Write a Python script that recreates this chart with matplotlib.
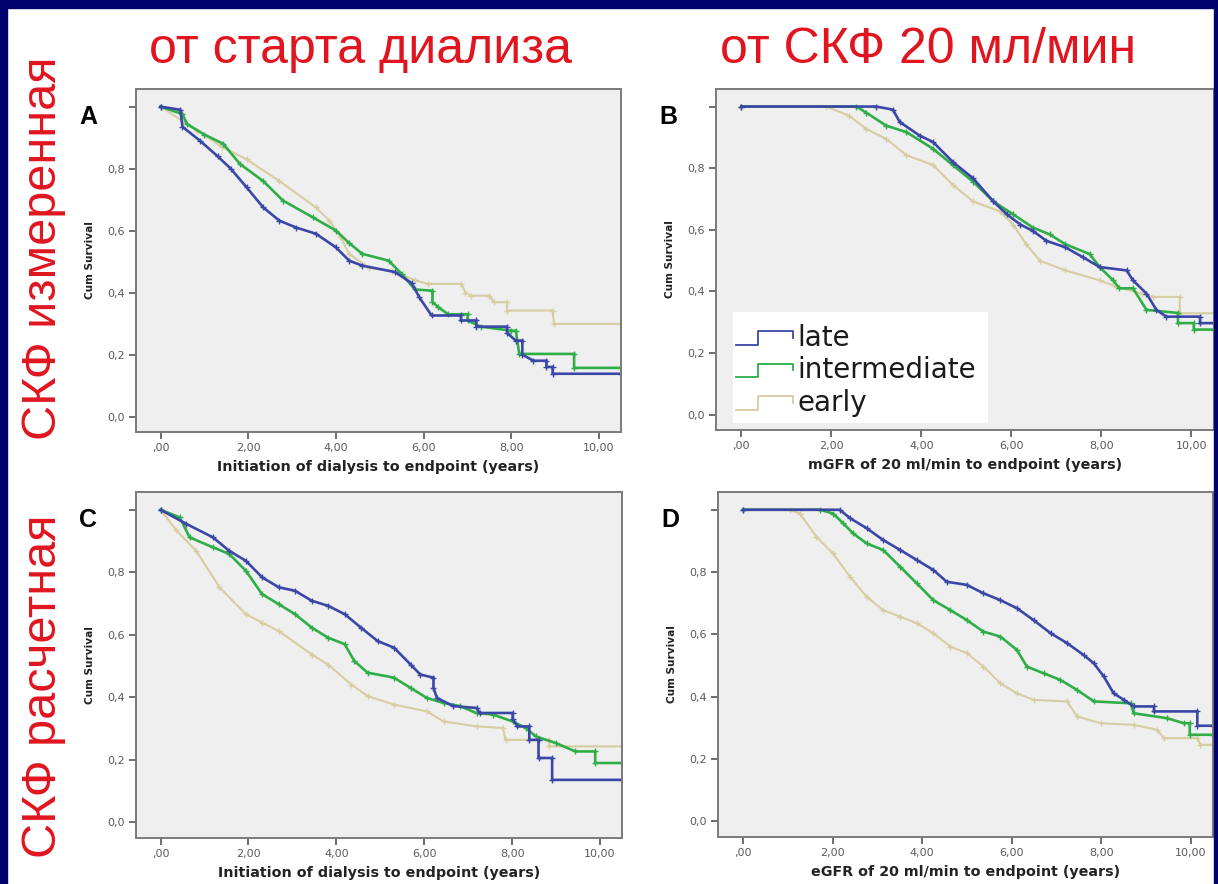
import matplotlib
matplotlib.use("Agg")
import matplotlib.pyplot as plt
from matplotlib.patches import Rectangle

W, H = 1218, 884

# survival curves: (years, cum survival) knots for each group and panel
a_late_t = [0, 0.45, 0.5, 0.9, 1.3, 1.6, 1.96, 2.34, 2.71, 3.09, 3.54, 4.0, 4.3, 4.6, 5.35, 5.73, 5.9, 6.18, 6.85, 6.85, 7.2, 7.2, 7.9, 7.9, 8.1, 8.25, 8.25, 8.5, 8.8, 8.8, 8.94, 8.94, 10.5]
a_late_s = [1.0, 0.99, 0.935, 0.89, 0.84, 0.80, 0.74, 0.675, 0.632, 0.61, 0.59, 0.546, 0.503, 0.487, 0.466, 0.43, 0.385, 0.326, 0.326, 0.31, 0.31, 0.29, 0.29, 0.27, 0.245, 0.245, 0.20, 0.18, 0.18, 0.16, 0.16, 0.138, 0.138]
a_mid_t = [0, 0.5, 0.6, 1.0, 1.43, 1.81, 2.34, 2.79, 3.47, 4.0, 4.3, 4.6, 5.2, 5.5, 5.8, 6.2, 6.2, 6.33, 6.56, 7.0, 7.0, 7.3, 8.0, 8.1, 8.18, 9.43, 9.43, 10.5]
a_mid_s = [1.0, 0.976, 0.944, 0.91, 0.88, 0.815, 0.76, 0.697, 0.643, 0.6, 0.56, 0.525, 0.503, 0.46, 0.41, 0.406, 0.37, 0.353, 0.33, 0.33, 0.31, 0.29, 0.277, 0.277, 0.202, 0.202, 0.157, 0.157]
a_early_t = [0, 0.83, 1.4, 1.96, 2.71, 3.54, 3.85, 4.1, 4.3, 4.75, 5.28, 5.8, 6.1, 6.86, 6.95, 7.09, 7.5, 7.6, 7.9, 7.9, 8.94, 8.97, 10.5]
a_early_s = [1.0, 0.923, 0.87, 0.83, 0.76, 0.675, 0.632, 0.58, 0.525, 0.48, 0.47, 0.44, 0.428, 0.428, 0.40, 0.39, 0.39, 0.369, 0.369, 0.342, 0.342, 0.299, 0.299]

b_late_t = [0, 3.0, 3.37, 3.52, 3.96, 4.26, 4.7, 5.15, 5.6, 5.9, 6.2, 6.48, 6.78, 7.2, 7.6, 7.96, 8.56, 8.7, 9.0, 9.22, 9.44, 10.19, 10.19, 10.5]
b_late_s = [1.0, 1.0, 0.99, 0.95, 0.906, 0.885, 0.82, 0.767, 0.692, 0.65, 0.617, 0.596, 0.564, 0.543, 0.51, 0.479, 0.468, 0.436, 0.393, 0.34, 0.318, 0.318, 0.297, 0.297]
b_mid_t = [0, 2.56, 2.78, 3.22, 3.67, 4.26, 4.7, 5.15, 5.6, 6.04, 6.48, 6.85, 7.2, 7.74, 7.96, 8.26, 8.4, 8.7, 9.0, 9.7, 9.7, 10.05, 10.05, 10.5]
b_mid_s = [1.0, 1.0, 0.98, 0.938, 0.917, 0.863, 0.81, 0.756, 0.692, 0.65, 0.607, 0.585, 0.553, 0.521, 0.479, 0.436, 0.41, 0.41, 0.34, 0.33, 0.297, 0.297, 0.276, 0.276]
b_early_t = [0, 1.89, 2.4, 2.78, 3.22, 3.67, 4.26, 4.7, 5.15, 5.74, 6.04, 6.33, 6.63, 7.2, 7.96, 8.33, 8.9, 9.15, 9.74, 9.74, 10.5]
b_early_s = [1.0, 1.0, 0.97, 0.927, 0.895, 0.842, 0.81, 0.746, 0.692, 0.66, 0.617, 0.553, 0.5, 0.468, 0.436, 0.415, 0.393, 0.382, 0.382, 0.329, 0.329]

c_late_t = [0, 0.585, 1.19, 1.56, 1.94, 2.31, 2.69, 3.06, 3.44, 3.81, 4.19, 4.56, 4.94, 5.31, 5.69, 5.91, 6.21, 6.21, 6.29, 6.66, 7.19, 7.26, 8.01, 8.01, 8.12, 8.39, 8.39, 8.6, 8.6, 8.91, 8.91, 10.5]
c_late_s = [1.0, 0.955, 0.912, 0.869, 0.837, 0.784, 0.752, 0.741, 0.709, 0.693, 0.666, 0.623, 0.58, 0.559, 0.505, 0.473, 0.463, 0.43, 0.398, 0.372, 0.366, 0.35, 0.35, 0.33, 0.307, 0.307, 0.264, 0.264, 0.206, 0.206, 0.136, 0.136]
c_mid_t = [0, 0.435, 0.66, 1.19, 1.56, 1.94, 2.31, 2.69, 3.06, 3.44, 3.81, 4.19, 4.41, 4.71, 5.31, 5.69, 6.06, 6.44, 6.81, 7.19, 7.56, 8.01, 8.31, 8.54, 8.99, 9.44, 9.89, 9.89, 10.5]
c_mid_s = [1.0, 0.976, 0.912, 0.88, 0.859, 0.805, 0.73, 0.698, 0.666, 0.623, 0.591, 0.57, 0.516, 0.479, 0.463, 0.43, 0.398, 0.382, 0.372, 0.35, 0.345, 0.323, 0.302, 0.275, 0.254, 0.227, 0.227, 0.19, 0.19]
c_early_t = [0, 0.36, 0.81, 1.34, 1.94, 2.31, 2.69, 3.44, 3.81, 4.34, 4.71, 5.31, 6.06, 6.44, 7.19, 7.79, 7.85, 8.84, 8.84, 10.5]
c_early_s = [1.0, 0.934, 0.869, 0.752, 0.666, 0.639, 0.612, 0.537, 0.505, 0.441, 0.404, 0.377, 0.355, 0.323, 0.307, 0.302, 0.264, 0.264, 0.243, 0.243]

d_late_t = [0, 2.16, 2.39, 2.76, 3.13, 3.51, 3.88, 4.25, 4.55, 5.0, 5.37, 5.75, 6.12, 6.49, 6.87, 7.24, 7.61, 7.84, 8.06, 8.28, 8.51, 8.73, 9.18, 9.18, 10.15, 10.15, 10.5]
d_late_s = [1.0, 1.0, 0.973, 0.941, 0.903, 0.871, 0.839, 0.807, 0.769, 0.759, 0.732, 0.71, 0.684, 0.646, 0.604, 0.572, 0.534, 0.507, 0.465, 0.411, 0.39, 0.369, 0.369, 0.353, 0.353, 0.307, 0.307]
d_mid_t = [0, 1.72, 2.01, 2.24, 2.46, 2.76, 3.13, 3.51, 3.88, 4.25, 4.63, 5.0, 5.37, 5.75, 6.12, 6.34, 6.72, 7.09, 7.46, 7.84, 8.66, 8.73, 9.48, 9.85, 9.98, 9.98, 10.5]
d_mid_s = [1.0, 1.0, 0.988, 0.956, 0.924, 0.892, 0.871, 0.817, 0.764, 0.71, 0.678, 0.646, 0.609, 0.593, 0.55, 0.497, 0.475, 0.454, 0.422, 0.385, 0.379, 0.347, 0.331, 0.315, 0.315, 0.278, 0.278]
d_early_t = [0, 1.04, 1.27, 1.64, 2.01, 2.39, 2.76, 3.13, 3.51, 3.88, 4.25, 4.63, 5.0, 5.37, 5.75, 6.12, 6.49, 7.24, 7.46, 7.99, 8.73, 9.25, 9.4, 10.15, 10.22, 10.5]
d_early_s = [1.0, 1.0, 0.988, 0.913, 0.86, 0.785, 0.721, 0.678, 0.657, 0.636, 0.604, 0.561, 0.54, 0.497, 0.443, 0.411, 0.39, 0.385, 0.337, 0.315, 0.31, 0.294, 0.267, 0.267, 0.246, 0.246]

groups = ["late", "intermediate", "early"]
colors = {"late": "#3b47a6", "intermediate": "#2fae48", "early": "#d7cda2"}
widths = {"late": 1.9, "intermediate": 1.9, "early": 1.5}

xticks = [0, 2, 4, 6, 8, 10]
xticklabels = [",00", "2,00", "4,00", "6,00", "8,00", "10,00"]
yticks = [0.0, 0.2, 0.4, 0.6, 0.8, 1.0]
yticklabels = ["0,0", "0,2", "0,4", "0,6", "0,8", ""]

panels = [
    ("A", (136, 89, 621, 432), "Initiation of dialysis to endpoint (years)",
     {"late": (a_late_t, a_late_s), "intermediate": (a_mid_t, a_mid_s), "early": (a_early_t, a_early_s)}),
    ("B", (716, 89, 1214, 430), "mGFR of 20 ml/min to endpoint (years)",
     {"late": (b_late_t, b_late_s), "intermediate": (b_mid_t, b_mid_s), "early": (b_early_t, b_early_s)}),
    ("C", (136, 492, 622, 838), "Initiation of dialysis to endpoint (years)",
     {"late": (c_late_t, c_late_s), "intermediate": (c_mid_t, c_mid_s), "early": (c_early_t, c_early_s)}),
    ("D", (718, 492, 1213, 837), "eGFR of 20 ml/min to endpoint (years)",
     {"late": (d_late_t, d_late_s), "intermediate": (d_mid_t, d_mid_s), "early": (d_early_t, d_early_s)}),
]

fig = plt.figure(figsize=(W / 100, H / 100), dpi=100)
fig.patch.set_facecolor("white")

# dark frame around the slide
navy = "#02026e"
fig.patches.append(Rectangle((0, 0), 7 / W, 1, transform=fig.transFigure, color=navy, zorder=0))
fig.patches.append(Rectangle((0, 1 - 8 / H), 1, 8 / H, transform=fig.transFigure, color=navy, zorder=0))
fig.patches.append(Rectangle((1 - 4 / W, 0), 4 / W, 1, transform=fig.transFigure, color=navy, zorder=0))

red = "#e0151f"
fig.text(360 / W, 1 - 50 / H, "от старта диализа", color=red, fontsize=36,
         family="Liberation Sans", ha="center", va="center")
fig.text(928 / W, 1 - 50 / H, "от СКФ 20 мл/мин", color=red, fontsize=36,
         family="Liberation Sans", ha="center", va="center")
fig.text(44 / W, 1 - 248 / H, "СКФ измеренная", color=red, fontsize=35,
         family="Liberation Sans", ha="center", va="center", rotation=90)
fig.text(44 / W, 1 - 686 / H, "СКФ расчетная", color=red, fontsize=35,
         family="Liberation Sans", ha="center", va="center", rotation=90)

for letter, (x0, y0, x1, y1), xlabel, curves in panels:
    ax = fig.add_axes([x0 / W, 1 - y1 / H, (x1 - x0) / W, (y1 - y0) / H])
    ax.set_facecolor("#efefef")
    for name in ["early", "intermediate", "late"]:
        t, s = curves[name]
        ax.plot(t, s, color=colors[name], lw=widths[name], solid_joinstyle="miter",
                marker="+", markersize=4, markeredgewidth=1.0)
    ax.set_xlim(-0.56, 10.5)
    ax.set_ylim(-0.05, 1.057)
    ax.set_xticks(xticks)
    ax.set_xticklabels(xticklabels)
    ax.set_yticks(yticks)
    ax.set_yticklabels(yticklabels)
    ax.tick_params(length=5, width=1.2, color="#555555", labelsize=8,
                   labelcolor="#5a5a5a", pad=3)
    for sp in ax.spines.values():
        sp.set_color("#7a7a7a")
        sp.set_linewidth(1.4)
    ax.set_xlabel(xlabel, fontsize=10.3, fontweight="bold", color="#222222", labelpad=5)
    ax.set_ylabel("Cum Survival", fontsize=7.6, fontweight="bold", color="#222222", labelpad=9)
    fig.text((x0 - 48) / W, 1 - (y0 + 28) / H, letter, fontsize=18, fontweight="bold",
             family="Liberation Sans", ha="center", va="center")

    if letter == "B":
        # legend box with step-shaped keys
        ax.add_patch(Rectangle((0.034, 0.02), 0.512, 0.326, transform=ax.transAxes,
                               facecolor="white", edgecolor="none", zorder=5))
        for i, name in enumerate(groups):
            yc = 0.27 - i * 0.095
            ax.plot([0.04, 0.085, 0.085, 0.155, 0.155], [yc - 0.02, yc - 0.02, yc + 0.02, yc + 0.02, yc],
                    transform=ax.transAxes, color=colors[name], lw=1.3, zorder=6)
            ax.text(0.163, yc, name, transform=ax.transAxes, fontsize=20, color="#1a1a1a",
                    family="DejaVu Sans", va="center", ha="left", zorder=6)

fig.savefig("out.png", dpi=100)
